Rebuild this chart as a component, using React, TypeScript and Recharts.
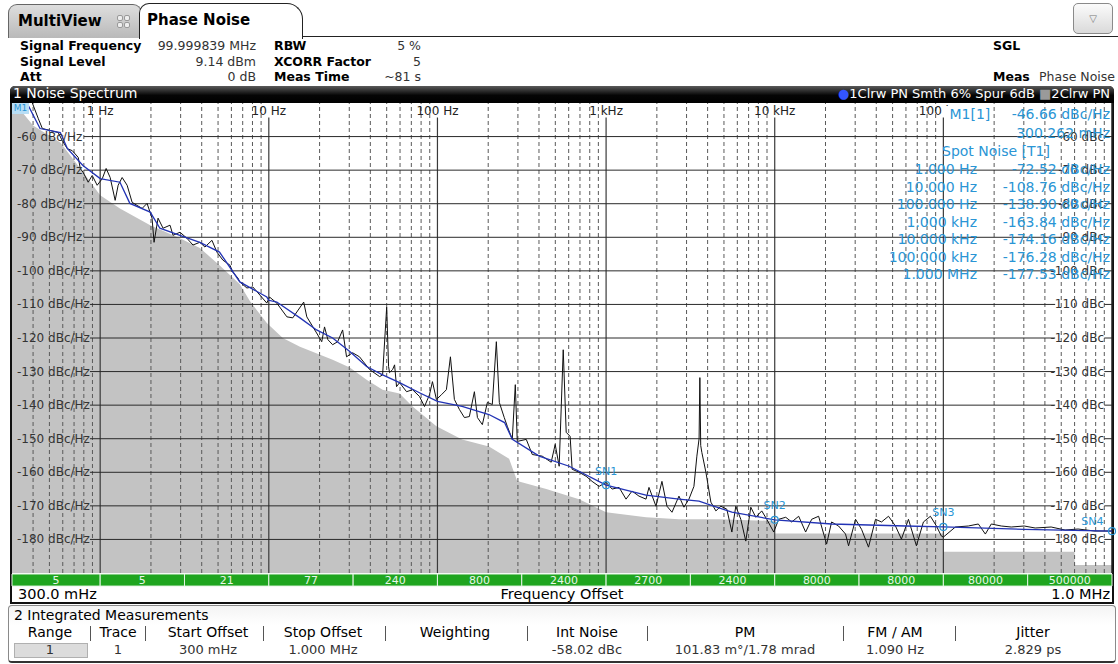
import React from "react";
import {
  ComposedChart,
  Line,
  Area,
  XAxis,
  YAxis,
  ReferenceLine,
  ReferenceArea,
  ReferenceDot,
} from "recharts";

const FONT = "'DejaVu Sans', Verdana, sans-serif";
const BLUE_TXT = "#2a95d5";

// offset frequency (Hz), phase noise (dBc/Hz)
const rawTrace: [number, number][] = [
  [0.396, -50], [0.43, -54.7], [0.454, -57.6], [0.506, -58.2], [0.564, -58.8], [0.596, -61.2],
  [0.638, -63.6], [0.683, -64.2], [0.741, -66.2], [0.762, -69.5], [0.793, -70.7], [0.849, -73.6],
  [0.897, -71.6], [0.96, -74.5], [1.03, -72.5], [1.085, -69.5], [1.146, -72.2], [1.227, -79],
  [1.278, -74.5], [1.35, -72.2], [1.445, -74.5], [1.547, -79.6], [1.655, -80.5], [1.773, -81.4],
  [1.897, -79.9], [2.03, -84.3], [2.087, -91.5], [2.204, -84.3], [2.36, -87.3], [2.595, -86.4],
  [2.704, -89.4], [2.974, -88.5], [3.27, -90.3], [3.55, -92.3], [3.9, -91.5], [4.18, -92.9],
  [4.6, -90.9], [4.92, -94.4], [5.34, -96.8], [5.88, -98.3], [6.12, -100.4], [6.55, -102.1],
  [6.73, -103.3], [7.41, -105.1], [8.04, -104.8], [8.85, -107.2], [9.73, -109.6], [10.1, -107.8],
  [11.15, -109.6], [12.8, -113.7], [13.87, -114], [15.7, -110.1], [16.1, -109.3], [16.8, -113.7],
  [19.2, -118.5], [20.6, -121.1], [21.4, -116.7], [22.4, -120.5], [23.9, -122], [25.6, -121.1],
  [27.4, -117.6], [28.9, -125.6], [31.4, -124.4], [34.5, -125.6], [39.6, -129.4], [45.4, -131.5],
  [47.3, -131], [50, -110.8], [51.3, -128.5], [52, -130.3], [54.2, -129.4], [55.7, -128],
  [57.2, -134.5], [59.6, -133.3], [65.6, -136], [71.2, -135.4], [78.2, -137.4], [83.8, -140.4],
  [89.7, -136.9], [93.4, -133], [98.6, -138.3], [105.6, -136.9], [113, -135.4], [119.4, -125.6],
  [126, -138.3], [135, -141.3], [144.5, -143.7], [154.6, -143.4], [165.6, -136], [172.6, -143.7],
  [184.6, -145.8], [197.7, -139.2], [211.5, -139.8], [223.5, -121.1], [232.8, -139.2], [249, -143.7],
  [259.5, -146.3], [277.7, -150.2], [289.5, -133.9], [297.4, -150.8], [336.3, -150.2], [365, -154.7],
  [418, -155.2], [472.6, -157], [499, -151.7], [527, -158.2], [557, -123.5], [580, -148.1],
  [612, -149.3], [629, -159.1], [692, -160], [762, -161.2], [826, -162.7], [909, -164.2],
  [1000, -163], [1086, -165], [1194, -164.5], [1313, -168], [1425, -165.6], [1567, -167.1],
  [1725, -168], [1796, -164.5], [1976, -170.1], [2144, -162.7], [2296, -170.1], [2459, -171.9],
  [2705, -167.1], [2896, -170.4], [3099, -168], [3318, -164.2], [3454, -155.2], [3560, -150],
  [3598, -131.8], [3640, -152], [3697, -154.1], [3908, -160], [4182, -168.9], [4478, -171.5],
  [4791, -170.1], [5200, -171], [5570, -177.8], [5877, -170.1], [6293, -174], [6736, -180.5],
  [7212, -170.4], [7721, -173.4], [8375, -171.5], [8972, -174], [9864, -177.8], [10560, -174],
  [11620, -173.4], [12610, -174.8], [13870, -173.1], [15250, -177.8], [16560, -174], [18210, -173.1],
  [20310, -181.4], [21740, -174.8], [23910, -176], [26300, -178.4], [27410, -181.9], [30150, -174],
  [32730, -177], [35990, -182.3], [39590, -174], [42970, -174.8], [47270, -173.1], [52000, -176],
  [56400, -179.9], [62090, -174], [69220, -181.9], [76160, -174.8], [83790, -173.1], [90960, -176],
  [97310, -179], [100000, -179.3], [117800, -176.3], [140600, -176], [161200, -175.4], [177400, -178.4],
  [192400, -175.4], [220500, -176], [252600, -176.3], [301500, -176], [350300, -176.6], [435500, -176.3],
  [527000, -177.2], [629300, -176.9], [793000, -177.5], [1000000, -177.5],
];

const smoothTrace: [number, number][] = [
  [0.3, -46.66], [0.375, -50.8], [0.44, -57.6], [0.58, -58.8], [0.64, -63.6], [0.79, -68.6],
  [1, -72.52], [1.31, -73.6], [1.5, -79.9], [1.98, -82.5], [2.26, -87.3], [2.97, -89.4],
  [3.9, -91.5], [5.1, -94.4], [6.73, -103.3], [9.73, -107.8], [10, -108.76], [11.15, -109.3],
  [15.3, -114], [19.2, -117.6], [23.9, -120], [30.2, -124], [38, -128.5], [47.3, -131],
  [59.6, -133.3], [78.2, -136.3], [100, -138.9], [140, -140.4], [202, -142.8], [250, -145.2],
  [278, -150.2], [401, -155.2], [604, -158.2], [1000, -163.84], [1725, -166.8], [2705, -168],
  [3555, -168.6], [5570, -171.9], [10000, -174.16], [21740, -175.4], [60000, -176],
  [100000, -176.28], [300000, -177], [1000000, -177.53],
];

const floorTrace: [number, number][] = [
  [0.3, -49], [0.4, -56.7], [0.58, -61.8], [0.762, -69.5], [1, -77.5], [1.31, -81.4],
  [1.98, -86.4], [2.97, -90.3], [3.9, -93.2], [5.1, -98.3], [6.73, -104], [7.72, -109],
  [9.73, -115.5], [12.1, -120], [15.3, -122.6], [23.9, -126.5], [30.2, -128.8], [38, -132.4],
  [47.3, -135.4], [59.6, -136.5], [71.2, -140.4], [98.6, -146.3], [140, -150.2], [202, -152.3],
  [266, -156], [297, -162.6], [442, -165], [692, -168], [1000, -171.9], [1725, -173.4],
  [2705, -174], [4655, -174], [10000, -174.5], [10000, -178.2], [100000, -178.2], [100000, -183.7],
  [600000, -183.7], [600000, -187.6], [1000000, -187.6],
];

const decades = [1, 10, 100, 1000, 10000, 100000];
const decadeLabels = ["1 Hz", "10 Hz", "100 Hz", "1 kHz", "10 kHz", "100 kHz"];
const minorLines = [0.1, 1, 10, 100, 1000, 10000, 100000]
  .flatMap((d) => [2, 3, 4, 5, 6, 7, 8, 9].map((m) => m * d))
  .filter((f) => f > 0.31);
const levelTicks = [-60, -70, -80, -90, -100, -110, -120, -130, -140, -150, -160, -170, -180];

const rangeBounds = [0.3, 1, 3.162, 10, 31.62, 100, 316.2, 1000, 3162, 10000, 31623, 100000, 316228, 1000000];
const rangeLabels = ["5", "5", "21", "77", "240", "800", "2400", "2700", "2400", "8000", "8000", "80000", "500000"];

const spotFreqLabels = ["1.000 Hz", "10.000 Hz", "100.000 Hz", "1.000 kHz", "10.000 kHz", "100.000 kHz", "1.000 MHz"];
const spotValues = ["-72.52", "-108.76", "-138.90", "-163.84", "-174.16", "-176.28", "-177.53"];
const spotMarkers: [string, number, number][] = [
  ["SN1", 1000, -163.84],
  ["SN2", 10000, -174.16],
  ["SN3", 100000, -176.28],
  ["SN4", 1000000, -177.53],
];

const tableHead = ["Range", "Trace", "Start Offset", "Stop Offset", "Weighting", "Int Noise", "PM", "FM / AM", "Jitter"];
const tableRow = ["1", "1", "300 mHz", "1.000 MHz", "", "-58.02 dBc", "101.83 m°/1.78 mrad", "1.090 Hz", "2.829 ps"];
const colCenters = [50, 118, 208, 323, 455, 587, 745, 895, 1033];
const colSeps = [90, 145, 263, 385, 527, 647, 843, 955];

const rows = (pts: [number, number][]) => pts.map(([f, v]) => ({ f, v }));

function Txt(props: any) {
  const { x, y, a = "start", size = 13, bold = false, color = "#000", bg, children } = props;
  const style: any = {
    position: "absolute",
    top: y - size * 0.62,
    fontSize: size,
    lineHeight: `${Math.round(size * 1.24)}px`,
    whiteSpace: "nowrap",
    color,
    fontWeight: bold ? "bold" : "normal",
    background: bg,
  };
  if (a === "start") style.left = x;
  else if (a === "end") style.right = 1118 - x;
  else {
    style.left = x;
    style.transform = "translateX(-50%)";
  }
  return <div style={style}>{children}</div>;
}

const LeftTick = (p: any) => (
  <text x={17} y={p.y} dy={4} textAnchor="start" fontSize={12} fill="#333" fontFamily={FONT}>
    {`${p.payload.value} dBc/Hz`}
  </text>
);

const RightTick = (p: any) => (
  <text x={1104} y={p.y} dy={4} textAnchor="end" fontSize={12} fill="#333" fontFamily={FONT}>
    {`${p.payload.value} dBc`}
  </text>
);

function NoiseChart() {
  return (
    <ComposedChart width={1118} height={620} margin={{ top: 103, right: 6, bottom: 47, left: 12 }}>
      <XAxis dataKey="f" type="number" scale="log" domain={[0.3, 1000000]} allowDataOverflow hide />
      <YAxis yAxisId="l" type="number" domain={[-190, -50]} allowDataOverflow ticks={levelTicks}
        mirror axisLine={false} tickLine={false} tick={LeftTick} />
      <YAxis yAxisId="r" orientation="right" type="number" domain={[-190, -50]} allowDataOverflow
        ticks={levelTicks} mirror axisLine={false} tickLine={false} tick={RightTick} />

      <Area yAxisId="l" data={rows(floorTrace)} dataKey="v" type="linear" baseValue="dataMin"
        fill="#c3c3c3" fillOpacity={1} stroke="none" isAnimationActive={false} />

      {minorLines.map((f) => (
        <ReferenceLine key={`m${f}`} yAxisId="l" x={f} stroke="#5a5a5a" strokeWidth={1} strokeDasharray="4 3" />
      ))}
      {decades.map((f, i) => (
        <ReferenceLine key={`d${f}`} yAxisId="l" stroke="#3a3a3a" strokeWidth={1.2}
          segment={[{ x: f, y: -54.3 }, { x: f, y: -190 }]}
          label={{ value: decadeLabels[i], position: "top", offset: 2, fill: "#222", fontSize: 12, fontFamily: FONT }} />
      ))}
      <ReferenceLine yAxisId="l" x={1000000} stroke="#222" strokeWidth={1.5} />
      {levelTicks.map((v) => (
        <ReferenceLine key={`hl${v}`} yAxisId="l" stroke="#2a2a2a" strokeWidth={1}
          segment={[{ x: v > -100 ? 0.8 : 0.87, y: v }, { x: v > -100 ? 500000 : 460000, y: v }]} />
      ))}
      {levelTicks.map((v) => (
        <ReferenceLine key={`hr${v}`} yAxisId="l" stroke="#2a2a2a" strokeWidth={1}
          segment={[{ x: 900000, y: v }, { x: 1000000, y: v }]} />
      ))}

      {rangeLabels.map((lab, i) => (
        <ReferenceArea key={`r${i}`} yAxisId="l" x1={rangeBounds[i]} x2={rangeBounds[i + 1]}
          y1={-190.3} y2={-193.9} ifOverflow="visible" fill="#1fa51f" fillOpacity={1}
          stroke="#e6f5e6" strokeWidth={1}
          label={{ value: lab, position: "center", fill: "#eaf7ea", fontSize: 11, fontFamily: FONT }} />
      ))}

      <Line yAxisId="l" data={rows(rawTrace)} dataKey="v" type="linear" stroke="#111" strokeWidth={1}
        dot={false} isAnimationActive={false} />
      <Line yAxisId="l" data={rows(smoothTrace)} dataKey="v" type="linear" stroke="#2233b5" strokeWidth={1.3}
        dot={false} isAnimationActive={false} />

      {spotMarkers.map(([name, f, v]) => (
        <ReferenceDot key={name} yAxisId="l" x={f} y={v} r={3.5} fill="none" stroke={BLUE_TXT} strokeWidth={1.2}
          label={{ value: name, position: name === "SN4" ? "left" : "top", dy: name === "SN4" ? -10 : -2,
            fill: BLUE_TXT, fontSize: 11, fontFamily: FONT }} />
      ))}
    </ComposedChart>
  );
}

export default function App() {
  return (
    <div style={{ position: "relative", width: 1118, height: 664, background: "#fff", fontFamily: FONT, overflow: "hidden", color: "#000" }}>
      <style>{"body{margin:0}"}</style>

      {/* tabs */}
      <div style={{ position: "absolute", left: 8, top: 4, width: 134, height: 34, boxSizing: "border-box",
        background: "linear-gradient(#dedede,#b9b9b9)", border: "1px solid #666", borderBottom: "none",
        borderRadius: "9px 9px 0 0" }} />
      <Txt x={18} y={21} size={15} bold>MultiView</Txt>
      <div style={{ position: "absolute", left: 117, top: 15, width: 13, height: 13, display: "grid",
        gridTemplateColumns: "6px 6px", gap: 1 }}>
        {[0, 1, 2, 3].map((i) => (
          <div key={i} style={{ background: "#eee", border: "1px solid #999", borderRadius: 2, boxSizing: "border-box" }} />
        ))}
      </div>
      <div style={{ position: "absolute", left: 139, top: 3, width: 164, height: 36, boxSizing: "border-box",
        background: "#fff", border: "1.5px solid #222", borderBottom: "none", borderRadius: "10px 16px 0 0" }} />
      <Txt x={147} y={20} size={15} bold>Phase Noise</Txt>
      <div style={{ position: "absolute", left: 302, top: 36, width: 816, borderTop: "1.5px solid #222" }} />
      <div style={{ position: "absolute", left: 1073, top: 3, width: 40, height: 31, boxSizing: "border-box",
        border: "1px solid #8a8a8a", borderRadius: 5, background: "linear-gradient(#fbfbfb,#dadada)",
        color: "#777", fontSize: 10, textAlign: "center", lineHeight: "30px" }}>▽</div>

      {/* settings */}
      <Txt x={20} y={46} size={12.5} bold>Signal Frequency</Txt>
      <Txt x={20} y={62} size={12.5} bold>Signal Level</Txt>
      <Txt x={20} y={77} size={12.5} bold>Att</Txt>
      <Txt x={256} y={46} a="end" size={12.5} color="#333">99.999839 MHz</Txt>
      <Txt x={256} y={62} a="end" size={12.5} color="#333">9.14 dBm</Txt>
      <Txt x={256} y={77} a="end" size={12.5} color="#333">0 dB</Txt>
      <Txt x={274} y={46} size={12.5} bold>RBW</Txt>
      <Txt x={274} y={62} size={12.5} bold>XCORR Factor</Txt>
      <Txt x={274} y={77} size={12.5} bold>Meas Time</Txt>
      <Txt x={421} y={46} a="end" size={12.5} color="#333">5 %</Txt>
      <Txt x={421} y={62} a="end" size={12.5} color="#333">5</Txt>
      <Txt x={421} y={77} a="end" size={12.5} color="#333">~81 s</Txt>
      <Txt x={993} y={46} size={12.5} bold>SGL</Txt>
      <Txt x={993} y={77} size={12.5} bold>Meas</Txt>
      <Txt x={1115} y={77} a="end" size={12.5} color="#333">Phase Noise</Txt>

      {/* diagram frame */}
      <div style={{ position: "absolute", left: 10, top: 86, width: 1104, height: 518, boxSizing: "border-box",
        border: "2px solid #111", borderRadius: "5px 5px 0 0" }} />

      <div style={{ position: "absolute", left: 0, top: 0 }}>
        <NoiseChart />
      </div>

      <div style={{ position: "absolute", left: 10, top: 86, width: 1104, height: 17,
        background: "linear-gradient(#5a5a5a,#050505 55%,#000)", borderRadius: "5px 5px 0 0" }} />
      <Txt x={13} y={94} size={14} color="#fff">1 Noise Spectrum</Txt>
      <Txt x={1110} y={94} a="end" size={13} color="#fff">
        <span style={{ color: "#3355ff" }}>●</span>1Clrw PN Smth 6% Spur 6dB{" "}
        <span style={{ color: "#9a9a9a" }}>■</span>2Clrw PN
      </Txt>

      <div style={{ position: "absolute", left: 12, top: 103, width: 17, height: 11, background: "#b8def5",
        color: BLUE_TXT, fontSize: 9, lineHeight: "11px", textAlign: "center" }}>M1</div>

      {/* marker and spot noise info */}
      <Txt x={945} y={115} size={14} color={BLUE_TXT} bg="#fff">&nbsp;M1[1]</Txt>
      <Txt x={1110} y={115} a="end" size={14} color={BLUE_TXT}>-46.66 dBc/Hz</Txt>
      <Txt x={1110} y={134} a="end" size={14} color={BLUE_TXT}>300.262 mHz</Txt>
      <Txt x={942} y={152} size={14} color={BLUE_TXT}>Spot Noise [T1]</Txt>
      {spotFreqLabels.map((lab, i) => (
        <React.Fragment key={lab}>
          <Txt x={977} y={170 + i * 17.5} a="end" size={14} color={BLUE_TXT}>{lab}</Txt>
          <Txt x={1110} y={170 + i * 17.5} a="end" size={14} color={BLUE_TXT}>{`${spotValues[i]} dBc/Hz`}</Txt>
        </React.Fragment>
      ))}

      <Txt x={18} y={594} size={14.5}>300.0 mHz</Txt>
      <Txt x={562} y={594} a="middle" size={14.5}>Frequency Offset</Txt>
      <Txt x={1110} y={594} a="end" size={14.5}>1.0 MHz</Txt>

      {/* integrated measurements */}
      <div style={{ position: "absolute", left: 8, top: 605, width: 1108, height: 58, boxSizing: "border-box",
        border: "1px solid #8a8a8a", borderBottom: "2px solid #333", borderRadius: 4,
        background: "linear-gradient(#f4f4f4,#ffffff 35%)" }} />
      <Txt x={14} y={616} size={14}>2 Integrated Measurements</Txt>
      <div style={{ position: "absolute", left: 14, top: 643, width: 74, height: 15, boxSizing: "border-box",
        background: "#dcdcdc", border: "1px solid #b0b0b0" }} />
      {colSeps.map((x) => (
        <div key={x} style={{ position: "absolute", left: x, top: 626, width: 1, height: 15, background: "#555" }} />
      ))}
      {tableHead.map((h, i) => (
        <Txt key={h} x={colCenters[i]} y={633} a="middle" size={14}>{h}</Txt>
      ))}
      {tableRow.map((v, i) => (
        <Txt key={`v${i}`} x={colCenters[i]} y={650} a="middle" size={13} color="#333">{v}</Txt>
      ))}
    </div>
  );
}
